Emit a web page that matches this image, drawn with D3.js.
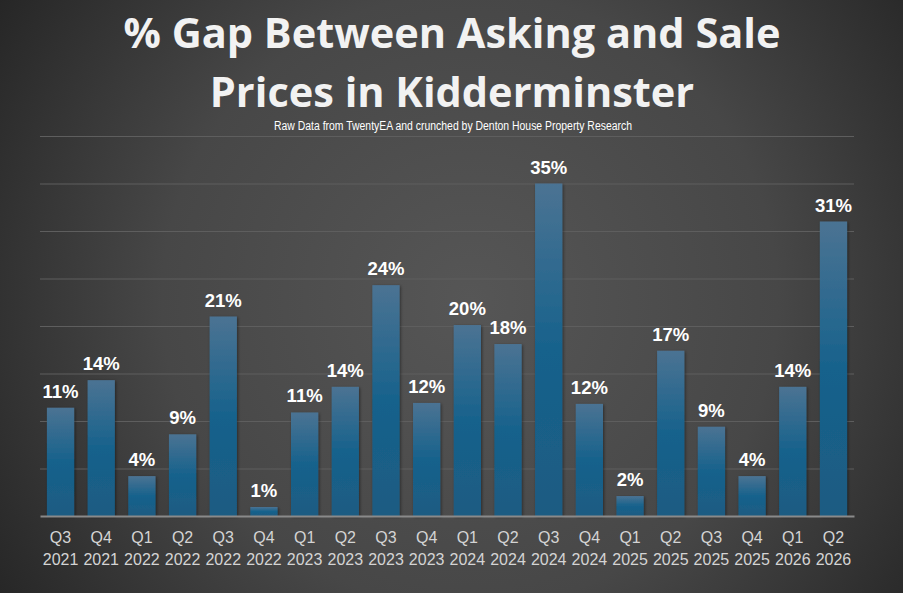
<!DOCTYPE html>
<meta charset="utf-8">
<style>
  html, body { margin: 0; padding: 0; background: #2e2e2e; }
  svg { display: block; }
  .title { font-family: "Open Sans", Lato, sans-serif; font-weight: 700; fill: #f2f2f2; text-anchor: middle; }
  .sub { font-family: "Liberation Sans Narrow", "Liberation Sans", sans-serif; fill: #ffffff; text-anchor: middle; }
  .val { font-family: "Liberation Sans", Arial, sans-serif; font-weight: 700; fill: #fff; text-anchor: middle; }
</style>
<body>
<script src="https://d3js.org/d3.v7.min.js"></script>
<script>
var quarters = ["Q3","Q4","Q1","Q2","Q3","Q4","Q1","Q2","Q3","Q4","Q1","Q2","Q3","Q4","Q1","Q2","Q3","Q4","Q1","Q2"];
var years = ["2021","2021","2022","2022","2022","2022","2023","2023","2023","2023","2024","2024","2024","2024","2025","2025","2025","2025","2026","2026"];
var gap = [11.4, 14.3, 4.2, 8.6, 21.0, 0.95, 10.9, 13.6, 24.3, 11.9, 20.1, 18.1, 35.0, 11.8, 2.1, 17.4, 9.4, 4.2, 13.6, 31.0];
var labels = ["11%","14%","4%","9%","21%","1%","11%","14%","24%","12%","20%","18%","35%","12%","2%","17%","9%","4%","14%","31%"];
var yTicks = [0, 5, 10, 15, 20, 25, 30, 35, 40];

var width = 903, height = 593;
var margin = {top: 136, right: 49, bottom: 77, left: 40};
var keys = quarters.map(function(q, i) { return i; });

var svg = d3.select("body").append("svg")
  .attr("width", width)
  .attr("height", height);

var defs = svg.append("defs");
var bg = defs.append("radialGradient").attr("id", "bg")
  .attr("gradientUnits", "userSpaceOnUse")
  .attr("cx", 470).attr("cy", 300).attr("r", 560);
bg.append("stop").attr("offset", "0").attr("stop-color", "#565656");
bg.append("stop").attr("offset", "0.55").attr("stop-color", "#474747");
bg.append("stop").attr("offset", "1").attr("stop-color", "#262626");

var barGrad = defs.append("linearGradient").attr("id", "bar")
  .attr("x1", 0).attr("y1", 0).attr("x2", 0).attr("y2", 1);
barGrad.append("stop").attr("offset", "0").attr("stop-color", "#4b7393");
barGrad.append("stop").attr("offset", "0.5").attr("stop-color", "#17628c");
barGrad.append("stop").attr("offset", "1").attr("stop-color", "#1c5b82");

var shadow = defs.append("filter").attr("id", "shadow")
  .attr("x", "-20%").attr("y", "-5%").attr("width", "140%").attr("height", "110%");
shadow.append("feDropShadow").attr("dx", 1).attr("dy", 1).attr("stdDeviation", 1.5)
  .attr("flood-color", "#000").attr("flood-opacity", 0.45);

svg.append("rect").attr("width", width).attr("height", height).attr("fill", "url(#bg)");

var x = d3.scaleBand()
  .domain(keys)
  .range([margin.left, width - margin.right])
  .paddingInner(0.33)
  .paddingOuter(0.17);

var y = d3.scaleLinear()
  .domain([0, 40])
  .range([height - margin.bottom, margin.top]);

// gridlines
svg.append("g")
  .selectAll("line")
  .data(yTicks.slice(1))
  .join("line")
  .attr("x1", margin.left)
  .attr("x2", width - margin.right)
  .attr("y1", function(d) { return y(d) + 0.5; })
  .attr("y2", function(d) { return y(d) + 0.5; })
  .attr("stroke", "#5e5e5e")
  .attr("stroke-width", 1);

// bars
svg.append("g")
  .selectAll("rect")
  .data(gap)
  .join("rect")
  .attr("x", function(d, i) { return x(i); })
  .attr("y", function(d) { return y(d); })
  .attr("width", x.bandwidth())
  .attr("height", function(d) { return y(0) - y(d); })
  .attr("fill", "url(#bar)")
  .attr("filter", "url(#shadow)");

// value labels
svg.append("g")
  .selectAll("text")
  .data(gap)
  .join("text")
  .attr("class", "val")
  .attr("x", function(d, i) { return x(i) + x.bandwidth() / 2; })
  .attr("y", function(d) { return y(d) - 10; })
  .attr("font-size", 18.5)
  .text(function(d, i) { return labels[i]; });

// x axis
var xAxis = svg.append("g")
  .attr("transform", "translate(0," + y(0) + ")")
  .call(d3.axisBottom(x).tickSize(0).tickFormat(""));
xAxis.select(".domain").attr("stroke", "#8a8a8a").attr("stroke-width", 2);
xAxis.selectAll(".tick text").remove();
xAxis.selectAll(".tick").append("text")
  .attr("text-anchor", "middle")
  .attr("font-family", "'Liberation Sans', Arial, sans-serif")
  .attr("font-size", 16)
  .attr("fill", "#d4d4d4")
  .each(function(d) {
    var t = d3.select(this);
    t.append("tspan").attr("x", 0).attr("y", 27).text(quarters[d]);
    t.append("tspan").attr("x", 0).attr("y", 49).text(years[d]);
  });

// titles
svg.append("text").attr("class", "title")
  .attr("x", 452).attr("y", 48).attr("font-size", 41.5)
  .text("% Gap Between Asking and Sale");
svg.append("text").attr("class", "title")
  .attr("x", 452).attr("y", 107).attr("font-size", 41.5)
  .text("Prices in Kidderminster");
svg.append("text").attr("class", "sub")
  .attr("x", 453).attr("y", 130).attr("font-size", 12.5)
  .attr("textLength", 358).attr("lengthAdjust", "spacingAndGlyphs")
  .text("Raw Data from TwentyEA and crunched by Denton House Property Research");
</script>
</body>
